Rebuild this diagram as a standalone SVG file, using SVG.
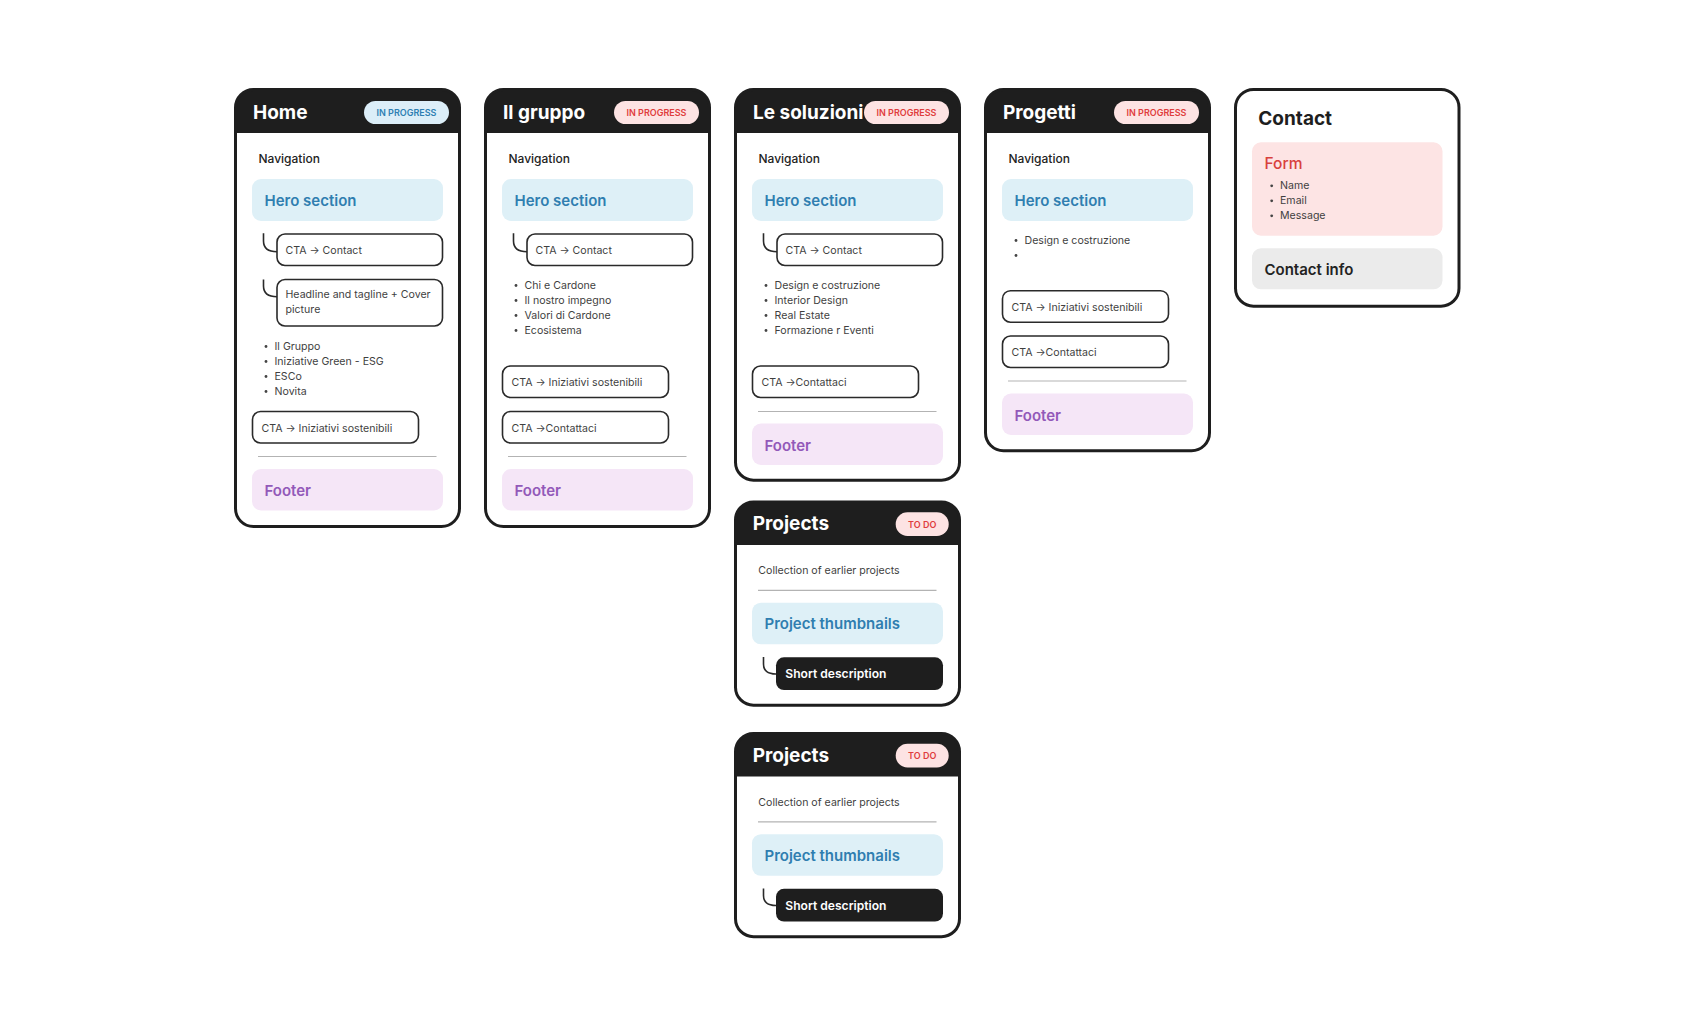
<svg xmlns="http://www.w3.org/2000/svg" width="1693" height="1027" viewBox="0 0 1693 1027">
<style>
text{font-family:Inter,"Noto Sans","Liberation Sans",sans-serif}
.card{fill:none;stroke:#1e1e1e;stroke-width:3}
.bg{fill:#fff}
.hdr{fill:#1e1e1e}
.title{font-size:19px;font-weight:700;fill:#fff}
.badgeB{fill:#dceef8}
.badgeR{fill:#fde3e3}
.bt{font-size:9px;font-weight:600;text-anchor:middle}
.btB{fill:#2e7fb3}
.btR{fill:#e03d3d}
.nav{font-size:12px;font-weight:500;fill:#222}
.hero{fill:#def0f7}
.heroT{font-size:15px;font-weight:600;fill:#2f7eb0}
.foot{fill:#f5e6f7}
.footT{font-size:15px;font-weight:600;fill:#9259b9}
.cta{fill:#fff;stroke:#2a2a2a;stroke-width:1.6}
.sm{font-size:10.6px;fill:#3f3f3f}
.dot{fill:#444}
.div{stroke:#b3b3b3;stroke-width:1.2}
.conn{fill:none;stroke:#2a2a2a;stroke-width:1.6}
.dark{fill:#1e1e1e}
.sd{font-size:12.1px;font-weight:600;fill:#fff}
</style>

<!-- Home -->
<g id="home" transform="translate(235.5,89.5)">
<rect class="bg" x="0" y="0" width="224" height="437" rx="18"/>
<path class="hdr" d="M0,43.5 V18 A18,18 0 0 1 18,0 H206 A18,18 0 0 1 224,18 V43.5 Z"/>
<rect class="card" x="0" y="0" width="224" height="437" rx="18"/>
<text class="title" x="17.5" y="29.5">Home</text>
<rect class="badgeB" x="128.5" y="11.5" width="85" height="23" rx="11.5"/>
<text class="bt btB" x="171" y="26.3">IN PROGRESS</text>
<text class="nav" x="23" y="73.5">Navigation</text>
<rect class="hero" x="16.5" y="89.5" width="191" height="42" rx="9"/>
<text class="heroT" x="29" y="116.5">Hero section</text>
<rect class="cta" x="41.5" y="144.5" width="165.5" height="31.5" rx="8"/>
<text class="sm" x="50" y="164.5">CTA → Contact</text>
<rect class="cta" x="41.5" y="190" width="165.5" height="46.5" rx="8"/>
<text class="sm" x="50" y="208.8">Headline and tagline + Cover</text>
<text class="sm" x="50" y="223.8">picture</text>
<circle class="dot" cx="30.5" cy="257" r="1.4"/><text class="sm" x="39" y="260.5">Il Gruppo</text>
<circle class="dot" cx="30.5" cy="272" r="1.4"/><text class="sm" x="39" y="275.5">Iniziative Green - ESG</text>
<circle class="dot" cx="30.5" cy="287" r="1.4"/><text class="sm" x="39" y="290.5">ESCo</text>
<circle class="dot" cx="30.5" cy="302" r="1.4"/><text class="sm" x="39" y="305.5">Novita</text>
<rect class="cta" x="17" y="322" width="166" height="31.5" rx="8"/>
<text class="sm" x="26" y="342">CTA → Iniziativi sostenibili</text>
<line class="div" x1="22.5" y1="367" x2="201" y2="367"/>
<rect class="foot" x="16.5" y="379.5" width="191" height="41.5" rx="9"/>
<text class="footT" x="29" y="406.5">Footer</text>
</g>

<!-- Il gruppo -->
<g id="il-gruppo" transform="translate(485.5,89.5)">
<rect class="bg" x="0" y="0" width="224" height="437" rx="18"/>
<path class="hdr" d="M0,43.5 V18 A18,18 0 0 1 18,0 H206 A18,18 0 0 1 224,18 V43.5 Z"/>
<rect class="card" x="0" y="0" width="224" height="437" rx="18"/>
<text class="title" x="17.5" y="29.5">Il gruppo</text>
<rect class="badgeR" x="128.5" y="11.5" width="85" height="23" rx="11.5"/>
<text class="bt btR" x="171" y="26.3">IN PROGRESS</text>
<text class="nav" x="23" y="73.5">Navigation</text>
<rect class="hero" x="16.5" y="89.5" width="191" height="42" rx="9"/>
<text class="heroT" x="29" y="116.5">Hero section</text>
<rect class="cta" x="41.5" y="144.5" width="165.5" height="31.5" rx="8"/>
<text class="sm" x="50" y="164.5">CTA → Contact</text>
<circle class="dot" cx="30.5" cy="196" r="1.4"/><text class="sm" x="39" y="199.5">Chi e Cardone</text>
<circle class="dot" cx="30.5" cy="211" r="1.4"/><text class="sm" x="39" y="214.5">Il nostro impegno</text>
<circle class="dot" cx="30.5" cy="226" r="1.4"/><text class="sm" x="39" y="229.5">Valori di Cardone</text>
<circle class="dot" cx="30.5" cy="241" r="1.4"/><text class="sm" x="39" y="244.5">Ecosistema</text>
<rect class="cta" x="17" y="276.5" width="166" height="31.5" rx="8"/>
<text class="sm" x="26" y="296.5">CTA → Iniziativi sostenibili</text>
<rect class="cta" x="17" y="322" width="166" height="31.5" rx="8"/>
<text class="sm" x="26" y="342">CTA →Contattaci</text>
<line class="div" x1="22.5" y1="367" x2="201" y2="367"/>
<rect class="foot" x="16.5" y="379.5" width="191" height="41.5" rx="9"/>
<text class="footT" x="29" y="406.5">Footer</text>
</g>

<!-- Le soluzioni -->
<g id="le-soluzioni" transform="translate(735.5,89.5)">
<rect class="bg" x="0" y="0" width="224" height="390.7" rx="18"/>
<path class="hdr" d="M0,43.5 V18 A18,18 0 0 1 18,0 H206 A18,18 0 0 1 224,18 V43.5 Z"/>
<rect class="card" x="0" y="0" width="224" height="390.7" rx="18"/>
<text class="title" x="17.5" y="29.5">Le soluzioni</text>
<rect class="badgeR" x="128.5" y="11.5" width="85" height="23" rx="11.5"/>
<text class="bt btR" x="171" y="26.3">IN PROGRESS</text>
<text class="nav" x="23" y="73.5">Navigation</text>
<rect class="hero" x="16.5" y="89.5" width="191" height="42" rx="9"/>
<text class="heroT" x="29" y="116.5">Hero section</text>
<rect class="cta" x="41.5" y="144.5" width="165.5" height="31.5" rx="8"/>
<text class="sm" x="50" y="164.5">CTA → Contact</text>
<circle class="dot" cx="30.5" cy="196" r="1.4"/><text class="sm" x="39" y="199.5">Design e costruzione</text>
<circle class="dot" cx="30.5" cy="211" r="1.4"/><text class="sm" x="39" y="214.5">Interior Design</text>
<circle class="dot" cx="30.5" cy="226" r="1.4"/><text class="sm" x="39" y="229.5">Real Estate</text>
<circle class="dot" cx="30.5" cy="241" r="1.4"/><text class="sm" x="39" y="244.5">Formazione r Eventi</text>
<rect class="cta" x="17" y="276.5" width="166" height="31.5" rx="8"/>
<text class="sm" x="26" y="296.5">CTA →Contattaci</text>
<line class="div" x1="22.5" y1="322" x2="201" y2="322"/>
<rect class="foot" x="16.5" y="334" width="191" height="41.5" rx="9"/>
<text class="footT" x="29" y="361">Footer</text>
</g>

<!-- Progetti -->
<g id="progetti" transform="translate(985.5,89.5)">
<rect class="bg" x="0" y="0" width="224" height="361.3" rx="18"/>
<path class="hdr" d="M0,43.5 V18 A18,18 0 0 1 18,0 H206 A18,18 0 0 1 224,18 V43.5 Z"/>
<rect class="card" x="0" y="0" width="224" height="361.3" rx="18"/>
<text class="title" x="17.5" y="29.5">Progetti</text>
<rect class="badgeR" x="128.5" y="11.5" width="85" height="23" rx="11.5"/>
<text class="bt btR" x="171" y="26.3">IN PROGRESS</text>
<text class="nav" x="23" y="73.5">Navigation</text>
<rect class="hero" x="16.5" y="89.5" width="191" height="42" rx="9"/>
<text class="heroT" x="29" y="116.5">Hero section</text>
<circle class="dot" cx="30.5" cy="151" r="1.4"/><text class="sm" x="39" y="154.5">Design e costruzione</text>
<circle class="dot" cx="30.5" cy="166" r="1.4"/>
<rect class="cta" x="17" y="201.2" width="166" height="31.5" rx="8"/>
<text class="sm" x="26" y="221.2">CTA → Iniziativi sostenibili</text>
<rect class="cta" x="17" y="246.5" width="166" height="31.5" rx="8"/>
<text class="sm" x="26" y="266.5">CTA →Contattaci</text>
<line class="div" x1="22.5" y1="291.5" x2="201" y2="291.5"/>
<rect class="foot" x="16.5" y="304" width="191" height="41.5" rx="9"/>
<text class="footT" x="29" y="331">Footer</text>
</g>

<!-- Contact -->
<g id="contact" transform="translate(1235.5,89.5)">
<rect class="bg" x="0" y="0" width="223.5" height="216.7" rx="18"/>
<rect class="card" x="0" y="0" width="223.5" height="216.7" rx="18"/>
<text class="title" x="22.8" y="35.5" style="fill:#1e1e1e">Contact</text>
<rect x="16.5" y="52.8" width="190.5" height="93.4" rx="9" fill="#fde4e4"/>
<text x="29" y="79.8" style="font-size:15.5px;font-weight:500;fill:#d8403c">Form</text>
<circle class="dot" cx="36.2" cy="96.3" r="1.4"/><text class="sm" x="44.5" y="99.8">Name</text>
<circle class="dot" cx="36.2" cy="111.3" r="1.4"/><text class="sm" x="44.5" y="114.8">Email</text>
<circle class="dot" cx="36.2" cy="126.3" r="1.4"/><text class="sm" x="44.5" y="129.8">Message</text>
<rect x="16.5" y="158.8" width="190.5" height="41" rx="9" fill="#ebebeb"/>
<text x="29" y="185.5" style="font-size:15px;font-weight:600;fill:#222">Contact info</text>
</g>

<!-- Projects 1 -->
<g id="projects-1" transform="translate(735.5,502)">
<rect class="bg" x="0" y="0" width="224" height="203.2" rx="18"/>
<path class="hdr" d="M0,43 V18 A18,18 0 0 1 18,0 H206 A18,18 0 0 1 224,18 V43 Z"/>
<rect class="card" x="0" y="0" width="224" height="203.2" rx="18"/>
<text class="title" x="17.2" y="28">Projects</text>
<rect class="badgeR" x="160.2" y="10.3" width="53" height="23.7" rx="11.8"/>
<text class="bt btR" x="186.7" y="25.6">TO DO</text>
<text class="sm" x="22.8" y="72.3">Collection of earlier projects</text>
<line class="div" x1="22.5" y1="88.3" x2="201" y2="88.3"/>
<rect class="hero" x="16.5" y="100.7" width="191" height="41.6" rx="9"/>
<text class="heroT" x="29" y="127.3">Project thumbnails</text>
<rect class="dark" x="40.5" y="155.3" width="167" height="32.7" rx="8"/>
<text class="sd" x="49.8" y="176.3">Short description</text>
</g>

<!-- Projects 2 -->
<g id="projects-2" transform="translate(735.5,733.5)">
<rect class="bg" x="0" y="0" width="224" height="203.2" rx="18"/>
<path class="hdr" d="M0,43 V18 A18,18 0 0 1 18,0 H206 A18,18 0 0 1 224,18 V43 Z"/>
<rect class="card" x="0" y="0" width="224" height="203.2" rx="18"/>
<text class="title" x="17.2" y="28">Projects</text>
<rect class="badgeR" x="160.2" y="10.3" width="53" height="23.7" rx="11.8"/>
<text class="bt btR" x="186.7" y="25.6">TO DO</text>
<text class="sm" x="22.8" y="72.3">Collection of earlier projects</text>
<line class="div" x1="22.5" y1="88.3" x2="201" y2="88.3"/>
<rect class="hero" x="16.5" y="100.7" width="191" height="41.6" rx="9"/>
<text class="heroT" x="29" y="127.3">Project thumbnails</text>
<rect class="dark" x="40.5" y="155.3" width="167" height="32.7" rx="8"/>
<text class="sd" x="49.8" y="176.3">Short description</text>
</g>

<g id="connectors">
<path class="conn" d="M263.5,233.3 V241 Q263.5,251.7 277,251.7"/>
<path class="conn" d="M263.5,279.5 V286 Q263.5,296.7 277,296.7"/>
<path class="conn" d="M513.5,233.3 V241 Q513.5,251.7 527,251.7"/>
<path class="conn" d="M763.5,233.3 V241 Q763.5,251.7 777,251.7"/>
<path class="conn" d="M763.5,657 V664 Q763.5,674 776,674"/>
<path class="conn" d="M763.5,888.5 V895.5 Q763.5,905.5 776,905.5"/>
</g>
</svg>
